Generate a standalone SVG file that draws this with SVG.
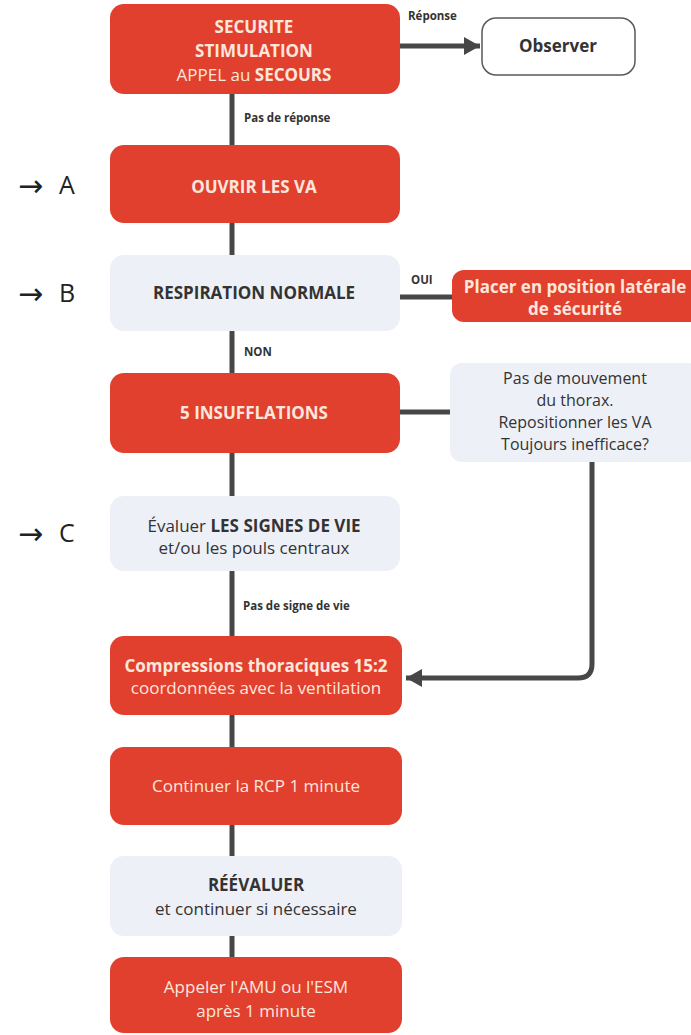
<svg xmlns="http://www.w3.org/2000/svg" width="691" height="1035" viewBox="0 0 691 1035">
<defs>
<style>
.red{fill:#e1402f}
.light{fill:#edf0f6}
.t{font-family:"Open Sans","Liberation Sans",sans-serif;text-anchor:middle;font-size:17px}
.w{fill:#fde6dc}
.d{fill:#333}
.b{font-weight:bold}
.s16{font-size:16px}
.lbl{font-family:"Open Sans","Liberation Sans",sans-serif;font-size:11.5px;font-weight:bold;fill:#333}
.arr{font-family:"DejaVu Sans",sans-serif;font-size:30px;fill:#222}
.let{font-family:"Open Sans","Liberation Sans",sans-serif;font-size:25px;fill:#222}
.c{stroke:#474747;stroke-width:5;fill:none}
</style>
<marker id="ah" markerUnits="userSpaceOnUse" markerWidth="18" markerHeight="20" refX="16" refY="10" orient="auto">
<path d="M0,1 L16,10 L0,19 Z" fill="#474747"/>
</marker>
</defs>
<rect width="691" height="1035" fill="#ffffff"/>
<g id="connectors">
<line class="c" x1="400" y1="46" x2="480" y2="46" marker-end="url(#ah)"/>
<line class="c" x1="232" y1="92" x2="232" y2="146"/>
<line class="c" x1="232" y1="222" x2="232" y2="256"/>
<line class="c" x1="398" y1="297" x2="453" y2="297"/>
<line class="c" x1="232" y1="330" x2="232" y2="374"/>
<line class="c" x1="398" y1="412" x2="451" y2="412"/>
<line class="c" x1="232" y1="452" x2="232" y2="497"/>
<path class="c" d="M592,462 V664 Q592,678 578,678 H406" marker-end="url(#ah)"/>
<line class="c" x1="232" y1="570" x2="232" y2="637"/>
<line class="c" x1="232" y1="714" x2="232" y2="748"/>
<line class="c" x1="232" y1="824" x2="232" y2="857"/>
<line class="c" x1="232" y1="935" x2="232" y2="958"/>
<text class="lbl" x="408" y="20">Réponse</text>
<text class="lbl" x="244" y="122">Pas de réponse</text>
<text class="lbl" x="411" y="284" font-size="10.5">OUI</text>
<text class="lbl" x="244" y="356" font-size="10.5">NON</text>
<text class="lbl" x="243" y="610">Pas de signe de vie</text>
</g>
<g id="labels-abc">
<text class="arr" x="18" y="196">→</text><text class="let" x="59" y="194">A</text>
<text class="arr" x="18" y="304">→</text><text class="let" x="59" y="302">B</text>
<text class="arr" x="18" y="544">→</text><text class="let" x="59" y="542">C</text>
</g>
<g id="n-securite">
<rect class="red" x="110" y="4" width="290" height="90" rx="14"/>
<text class="t w b" x="254" y="33">SECURITE</text>
<text class="t w b" x="254" y="57">STIMULATION</text>
<text class="t w" x="254" y="81">APPEL au <tspan class="b">SECOURS</tspan></text>
</g>
<g id="n-observer">
<rect x="482" y="18" width="153" height="57" rx="14" fill="#fff" stroke="#5a5a5a" stroke-width="1.5"/>
<text class="t d b" x="558" y="52">Observer</text>
</g>
<g id="n-ouvrir">
<rect class="red" x="110" y="145" width="290" height="78" rx="14"/>
<text class="t w b" x="254" y="193">OUVRIR LES VA</text>
</g>
<g id="n-respiration">
<rect class="light" x="110" y="255" width="290" height="76" rx="14"/>
<text class="t d b" x="254" y="299">RESPIRATION NORMALE</text>
</g>
<g id="n-pls">
<rect class="red" x="452" y="270" width="250" height="52" rx="12"/>
<text class="t w b" x="575" y="293">Placer en position latérale</text>
<text class="t w b" x="575" y="315">de sécurité</text>
</g>
<g id="n-insufflations">
<rect class="red" x="110" y="373" width="290" height="80" rx="14"/>
<text class="t w b" x="254" y="419">5 INSUFFLATIONS</text>
</g>
<g id="n-thorax">
<rect class="light" x="450" y="363" width="250" height="99" rx="12"/>
<text class="t d s16" x="575" y="384">Pas de mouvement</text>
<text class="t d s16" x="575" y="406">du thorax.</text>
<text class="t d s16" x="575" y="428">Repositionner les VA</text>
<text class="t d s16" x="575" y="450">Toujours inefficace?</text>
</g>
<g id="n-signes">
<rect class="light" x="110" y="496" width="290" height="75" rx="14"/>
<text class="t d" x="254" y="532">Évaluer <tspan class="b">LES SIGNES DE VIE</tspan></text>
<text class="t d" x="254" y="554">et/ou les pouls centraux</text>
</g>
<g id="n-compressions">
<rect class="red" x="110" y="636" width="292" height="79" rx="14"/>
<text class="t w b" x="256" y="672">Compressions thoraciques 15:2</text>
<text class="t w" x="256" y="694">coordonnées avec la ventilation</text>
</g>
<g id="n-rcp">
<rect class="red" x="110" y="747" width="292" height="78" rx="14"/>
<text class="t w" x="256" y="792">Continuer la RCP 1 minute</text>
</g>
<g id="n-reevaluer">
<rect class="light" x="110" y="856" width="292" height="80" rx="14"/>
<text class="t d b" x="256" y="891">RÉÉVALUER</text>
<text class="t d" x="256" y="915">et continuer si nécessaire</text>
</g>
<g id="n-appeler">
<rect class="red" x="110" y="957" width="292" height="76" rx="14"/>
<text class="t w" x="256" y="993">Appeler l'AMU ou l'ESM</text>
<text class="t w" x="256" y="1017">après 1 minute</text>
</g>
</svg>
